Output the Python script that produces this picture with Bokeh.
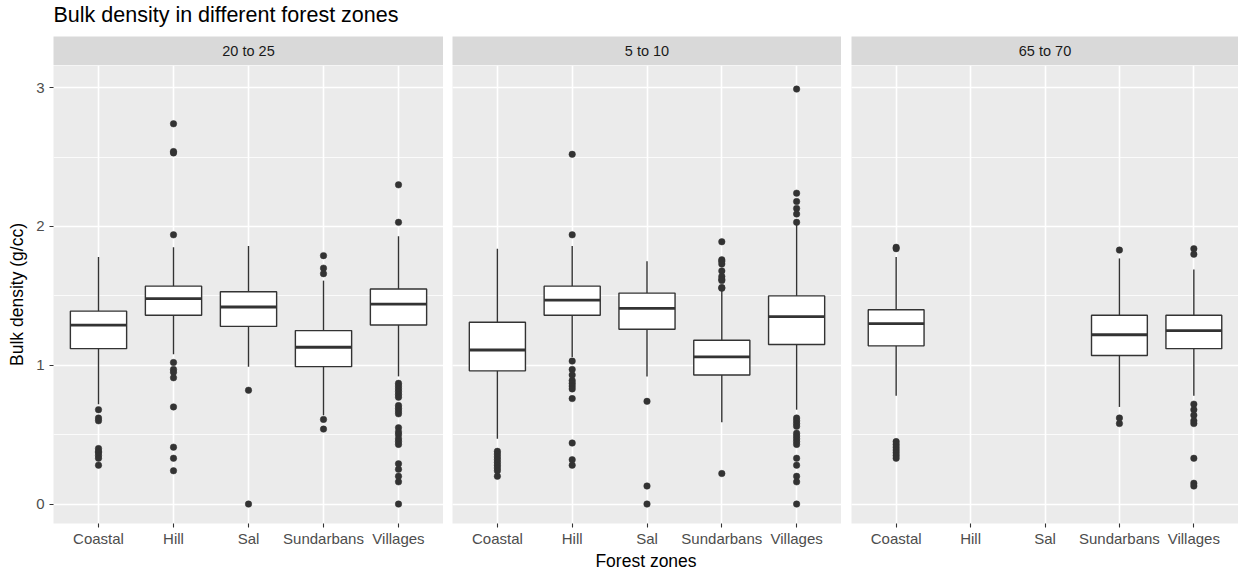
from bokeh.plotting import figure
from bokeh.layouts import column, row
from bokeh.models import FactorRange, Range1d, ColumnDataSource, SingleIntervalTicker
from bokeh.transform import dodge
from bokeh.embed import file_html
from bokeh.resources import INLINE
from bokeh.core.properties import value

FONT = "Liberation Sans"

ZONES = ["Coastal", "Hill", "Sal", "Sundarbans", "Villages"]
PANEL_LABELS = ["20 to 25", "5 to 10", "65 to 70"]
TITLE = "Bulk density in different forest zones"
X_LABEL = "Forest zones"
Y_LABEL = "Bulk density (g/cc)"

# ---- panel "20 to 25" ----
a_zones = ["Coastal", "Hill", "Sal", "Sundarbans", "Villages"]
a_lower = [0.72, 1.08, 0.99, 0.64, 0.92]
a_q1 = [1.12, 1.36, 1.28, 0.99, 1.29]
a_median = [1.29, 1.48, 1.42, 1.13, 1.44]
a_q3 = [1.39, 1.57, 1.53, 1.25, 1.55]
a_upper = [1.78, 1.85, 1.86, 1.61, 1.93]
a_out_coastal = [0.68, 0.62, 0.60, 0.40, 0.38, 0.37, 0.35, 0.33, 0.28]
a_out_hill = [2.74, 2.54, 2.53, 1.94, 1.02, 0.97, 0.95, 0.91, 0.70, 0.41, 0.33, 0.24]
a_out_sal = [0.82, 0.0]
a_out_sundarbans = [1.79, 1.70, 1.66, 0.61, 0.54]
a_out_villages = [2.30, 2.03, 0.87, 0.85, 0.83, 0.81, 0.79, 0.77, 0.71, 0.69, 0.67,
                  0.65, 0.55, 0.52, 0.50, 0.47, 0.45, 0.43, 0.29, 0.25, 0.20, 0.16, 0.0]

# ---- panel "5 to 10" ----
b_zones = ["Coastal", "Hill", "Sal", "Sundarbans", "Villages"]
b_lower = [0.47, 1.06, 0.92, 0.59, 0.68]
b_q1 = [0.96, 1.36, 1.26, 0.93, 1.15]
b_median = [1.11, 1.47, 1.41, 1.06, 1.35]
b_q3 = [1.31, 1.57, 1.52, 1.18, 1.50]
b_upper = [1.84, 1.86, 1.75, 1.54, 2.01]
b_out_coastal = [0.38, 0.36, 0.34, 0.32, 0.30, 0.28, 0.26, 0.24, 0.20]
b_out_hill = [2.52, 1.94, 1.03, 0.97, 0.93, 0.89, 0.87, 0.85, 0.83, 0.76, 0.44, 0.32, 0.28]
b_out_sal = [0.74, 0.13, 0.0]
b_out_sundarbans = [1.89, 1.76, 1.75, 1.73, 1.68, 1.64, 1.62, 1.61, 1.56, 1.555, 0.22]
b_out_villages = [2.99, 2.24, 2.18, 2.13, 2.09, 2.03, 0.62, 0.60, 0.58, 0.56, 0.51,
                  0.49, 0.47, 0.45, 0.43, 0.33, 0.28, 0.20, 0.16, 0.0]

# ---- panel "65 to 70" ----
c_zones = ["Coastal", "Sundarbans", "Villages"]
c_lower = [0.78, 0.70, 0.78]
c_q1 = [1.14, 1.07, 1.12]
c_median = [1.30, 1.22, 1.25]
c_q3 = [1.40, 1.36, 1.36]
c_upper = [1.78, 1.77, 1.69]
c_out_coastal = [1.85, 1.84, 0.45, 0.43, 0.41, 0.39, 0.37, 0.35, 0.33]
c_out_sundarbans = [1.83, 0.62, 0.58]
c_out_villages = [1.84, 1.80, 0.72, 0.68, 0.64, 0.60, 0.58, 0.33, 0.15, 0.13]

panel_data = [
    (a_zones, a_lower, a_q1, a_median, a_q3, a_upper,
     {"Coastal": a_out_coastal, "Hill": a_out_hill, "Sal": a_out_sal,
      "Sundarbans": a_out_sundarbans, "Villages": a_out_villages}),
    (b_zones, b_lower, b_q1, b_median, b_q3, b_upper,
     {"Coastal": b_out_coastal, "Hill": b_out_hill, "Sal": b_out_sal,
      "Sundarbans": b_out_sundarbans, "Villages": b_out_villages}),
    (c_zones, c_lower, c_q1, c_median, c_q3, c_upper,
     {"Coastal": c_out_coastal, "Sundarbans": c_out_sundarbans,
      "Villages": c_out_villages}),
]

LEFT_BORDERS = [53, 9, 10]
FRAME_WIDTHS = [390, 389, 387]
TOTAL_W = sum(LEFT_BORDERS) + sum(FRAME_WIDTHS)
TITLE_H = 36
STRIP_H = 29
FRAME_H = 458
BOTTOM = 26
XLAB_H = 23

INK = "#333333"


def style_blank(f):
    f.grid.visible = False
    f.outline_line_color = None
    f.border_fill_color = "white"


title_fig = figure(width=TOTAL_W, height=TITLE_H,
                   x_range=Range1d(0, 1), y_range=Range1d(0, 1),
                   x_axis_location=None, y_axis_location=None,
                   toolbar_location=None, output_backend="svg",
                   min_border_left=53, min_border_right=0,
                   min_border_top=0, min_border_bottom=0, title=TITLE)
style_blank(title_fig)
title_fig.background_fill_color = "white"
title_fig.title.text_font = FONT
title_fig.title.text_font_size = "21.5px"
title_fig.title.text_font_style = "normal"
title_fig.title.text_color = "black"
title_fig.title.standoff = 0
title_fig.title.offset = 0
title_fig.title.align = "left"

cols = []
for i, (zones, lower, q1, med, q3, upper, outliers) in enumerate(panel_data):
    ml = LEFT_BORDERS[i]
    w = ml + FRAME_WIDTHS[i]

    strip = figure(width=w, height=STRIP_H, x_range=Range1d(0, 1), y_range=Range1d(0, 1),
                   x_axis_location=None, y_axis_location=None,
                   toolbar_location=None, output_backend="svg",
                   min_border_left=ml, min_border_right=0,
                   min_border_top=0, min_border_bottom=0)
    style_blank(strip)
    strip.background_fill_color = "#D9D9D9"
    strip.text(x=[0.5], y=[0.5], text=[PANEL_LABELS[i]], text_align="center",
               text_baseline="middle", text_font=value(FONT),
               text_font_size="14.5px", text_color="#1A1A1A")

    p = figure(width=w, height=FRAME_H + BOTTOM,
               x_range=FactorRange(*ZONES, range_padding=0.04),
               y_range=Range1d(-0.14, 3.16),
               x_axis_location="below",
               y_axis_location="left" if i == 0 else None,
               toolbar_location=None, output_backend="svg",
               min_border_left=ml, min_border_right=0,
               min_border_top=0, min_border_bottom=BOTTOM)
    p.background_fill_color = "#EBEBEB"
    p.border_fill_color = "white"
    p.outline_line_color = None

    p.xgrid.grid_line_color = "white"
    p.xgrid.grid_line_width = 1.6
    p.ygrid.ticker = SingleIntervalTicker(interval=1, num_minor_ticks=2)
    p.ygrid.grid_line_color = "white"
    p.ygrid.grid_line_width = 1.6
    p.ygrid.minor_grid_line_color = "white"
    p.ygrid.minor_grid_line_width = 0.8

    p.xaxis.axis_line_color = None
    p.xaxis.major_tick_line_color = INK
    p.xaxis.major_tick_line_width = 1.1
    p.xaxis.major_tick_out = 4
    p.xaxis.major_tick_in = 0
    p.xaxis.minor_tick_line_color = None
    p.xaxis.major_label_text_font = FONT
    p.xaxis.major_label_text_font_size = "15px"
    p.xaxis.major_label_text_color = "#4D4D4D"
    p.xaxis.major_label_standoff = 2

    if i == 0:
        p.yaxis.ticker = SingleIntervalTicker(interval=1, num_minor_ticks=2)
        p.yaxis.axis_line_color = None
        p.yaxis.major_tick_line_color = INK
        p.yaxis.major_tick_line_width = 1.1
        p.yaxis.major_tick_out = 4
        p.yaxis.major_tick_in = 0
        p.yaxis.minor_tick_line_color = None
        p.yaxis.major_label_text_font = FONT
        p.yaxis.major_label_text_font_size = "15px"
        p.yaxis.major_label_text_color = "#4D4D4D"
        p.yaxis.major_label_standoff = 5
        p.yaxis.axis_label = Y_LABEL
        p.yaxis.axis_label_text_font = FONT
        p.yaxis.axis_label_text_font_size = "17.5px"
        p.yaxis.axis_label_text_font_style = "normal"
        p.yaxis.axis_label_text_color = "black"
        p.yaxis.axis_label_standoff = 6

    src = ColumnDataSource(dict(zone=zones, lower=lower, q1=q1, med=med, q3=q3, upper=upper))
    p.segment(x0="zone", y0="q3", x1="zone", y1="upper", source=src,
              line_color=INK, line_width=1.4)
    p.segment(x0="zone", y0="lower", x1="zone", y1="q1", source=src,
              line_color=INK, line_width=1.4)
    p.vbar(x="zone", width=0.75, bottom="q1", top="q3", source=src,
           fill_color="white", line_color=INK, line_width=1.4)
    p.segment(x0=dodge("zone", -0.375, range=p.x_range), y0="med",
              x1=dodge("zone", 0.375, range=p.x_range), y1="med", source=src,
              line_color=INK, line_width=2.8)

    ox, oy = [], []
    for z in zones:
        for v in outliers.get(z, []):
            ox.append(z)
            oy.append(v)
    p.scatter(x=ox, y=oy, size=6.5, fill_color=INK, line_color=INK, line_width=0.5)

    cols.append(column(strip, p))

xlab_fig = figure(width=TOTAL_W, height=XLAB_H,
                  x_range=Range1d(0, 1), y_range=Range1d(0, 1),
                  x_axis_location=None, y_axis_location=None,
                  toolbar_location=None, output_backend="svg",
                  min_border_left=53, min_border_right=0,
                  min_border_top=0, min_border_bottom=0)
style_blank(xlab_fig)
xlab_fig.background_fill_color = "white"
xlab_fig.text(x=[0.5], y=[0.5], text=[X_LABEL], text_align="center",
              text_baseline="middle", text_font=value(FONT),
              text_font_size="17.5px", text_color="black")

layout = column(title_fig, row(*cols), xlab_fig)

open("out.html", "w").write(file_html(layout, INLINE))
